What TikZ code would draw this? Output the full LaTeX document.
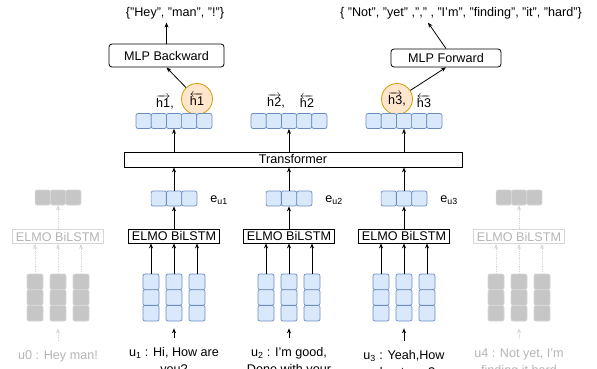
\documentclass[tikz,border=0pt]{standalone}
\usepackage{fontspec}
\setmainfont{Liberation Sans}
\usepackage{tikz}
\usetikzlibrary{arrows.meta, positioning, calc}
\definecolor{CellBlue}{HTML}{DAE8FC}
\definecolor{CellEdge}{HTML}{6C8EBF}
\definecolor{HidFill}{HTML}{FFE6CC}
\definecolor{HidEdge}{HTML}{D79B00}
\definecolor{FadeFill}{HTML}{C6C6C6}
\definecolor{FadeEdge}{HTML}{D6D6D6}
\definecolor{FadeText}{HTML}{B4B4B4}
\newcommand{\fw}[1]{$\overrightarrow{\hbox{h#1}}$}
\newcommand{\bw}[1]{$\overleftarrow{\hbox{h#1}}$}

\begin{document}
\begin{tikzpicture}[>={Stealth[length=5pt,width=4pt]}, x=1pt, y=-1pt, line width=0.8pt,
    every node/.style={font=\fontsize{12.6}{17}\selectfont},
    cell/.style={draw=CellEdge, fill=CellBlue, rounded corners=2pt, line width=0.7pt,
        minimum width=15.2pt, minimum height=15pt, inner sep=0pt},
    tokcell/.style={cell, minimum width=16pt, minimum height=15.6pt},
    fadecell/.style={cell, draw=FadeEdge, fill=FadeFill},
    fadetok/.style={tokcell, draw=FadeEdge, fill=FadeFill},
    elmo/.style={draw, inner sep=0pt, minimum width=91pt, minimum height=14pt},
    fadeelmo/.style={elmo, draw=FadeEdge, text=FadeText},
    mlp/.style={draw, rounded corners=3pt, inner sep=0pt},
    hid/.style={circle, draw=HidEdge, fill=HidFill, minimum size=31pt, inner sep=0pt},
    utt/.style={anchor=north, align=center, inner sep=0pt, outer ysep=9.5pt},
    fadearrow/.style={->, draw=FadeEdge, densely dotted}]
    \useasboundingbox (0,0) rectangle (597,369);

    % Outputs and the two MLP heads
    \node (outb) at (175,13) {\{"Hey", "man", "!"\}};
    \node (outf) at (461,13) {\{ "Not", "yet" ,"," , "I'm", "finding", "it", "hard"\}};
    \node [mlp, minimum width=115pt, minimum height=23pt] (mlpb) at (166.5,55.5) {MLP Backward};
    \node [mlp, minimum width=110pt, minimum height=18pt] (mlpf) at (446,58) {MLP Forward};
    \draw [->] (mlpb.north) -- (mlpb.north |- outb.south);
    \draw [->] (mlpf.north) -- ([xshift=-33pt]outf.south);

    % Hidden state labels
    \node (h1f) at (165,102) {\fw{1},};
    \node [hid] (h1b) at (197,99) {\bw{1}};
    \node (h2f) at (276,101) {\fw{2},};
    \node (h2b) at (307,101) {\bw{2}};
    \node [hid] (h3f) at (397,99) {\fw{3},};
    \node (h3b) at (424,101) {\bw{3}};
    \draw [->] (h1b) -- (mlpb.south);
    \draw [->] (h3f) -- (mlpf.south);

    % Transformer over the utterance vectors
    \node [draw, minimum width=338pt, minimum height=15pt, inner sep=0pt] (trans) at (293,159.5) {Transformer};

    % Utterances
    \node [utt] (u1) at (174,338) {u\textsubscript{1} : Hi, How are\\you?};
    \node [utt] (u2) at (289,338) {u\textsubscript{2} : I'm good,\\Done with your};
    \node [utt] (u3) at (404,341) {u\textsubscript{3} : Yeah,How\\about you?};
    \node [utt, text=FadeText] (u0) at (58,341) {u0 : Hey man!};
    \node [utt, text=FadeText] (u4) at (519,339) {u4 : Not yet, I'm\\finding it hard};

    % Active utterance columns
    \foreach \g/\cx in {1/174, 2/289, 3/404} {
        \foreach \c/\dx in {1/-23, 2/0, 3/23}
            \foreach \r/\y in {1/281.8, 2/297.5, 3/313.2}
                \node [tokcell] (t\g-\c-\r) at (\cx+\dx,\y) {};
        \node [elmo] (elmo\g) at (\cx,236) {ELMO BiLSTM};
        \foreach \c in {1,2,3}
            \draw [->] (t\g-\c-1.north) -- (t\g-\c-1.north |- elmo\g.south);
        \draw [->, shorten >=7pt] (u\g) -- (t\g-2-3);
        \foreach \c/\dx in {1/-15.3, 2/0, 3/15.3}
            \node [cell] (e\g-\c) at (\cx+\dx,198.5) {};
        \node (el\g) at (\cx+45,200) {e\textsubscript{u\g}};
        \draw [->] (elmo\g) -- (e\g-2);
        \draw [->] (e\g-2) -- (e\g-2 |- trans.south);
        \foreach \c/\dx in {1/-30.4, 2/-15.2, 3/0, 4/15.2, 5/30.4}
            \node [cell] (hv\g-\c) at (\cx+\dx,121) {};
        \draw [->] (trans.north -| hv\g-3) -- (hv\g-3);
    }

    % Faded context utterances
    \foreach \g/\cx in {0/58, 4/519} {
        \foreach \c/\dx in {1/-23, 2/0, 3/23}
            \foreach \r/\y in {1/281.8, 2/297.5, 3/313.2}
                \node [fadetok] (t\g-\c-\r) at (\cx+\dx,\y) {};
        \node [fadeelmo] (elmo\g) at (\cx,236.5) {ELMO BiLSTM};
        \foreach \c in {1,2,3}
            \draw [fadearrow] (t\g-\c-1.north) -- (t\g-\c-1.north |- elmo\g.south);
        \draw [fadearrow, shorten >=7pt] (u\g) -- (t\g-2-3);
        \foreach \c/\dx in {1/-15.3, 2/0, 3/15.3}
            \node [fadecell] (e\g-\c) at (\cx+\dx,197.5) {};
        \draw [fadearrow] (elmo\g) -- (e\g-2);
    }
\end{tikzpicture}
\end{document}
